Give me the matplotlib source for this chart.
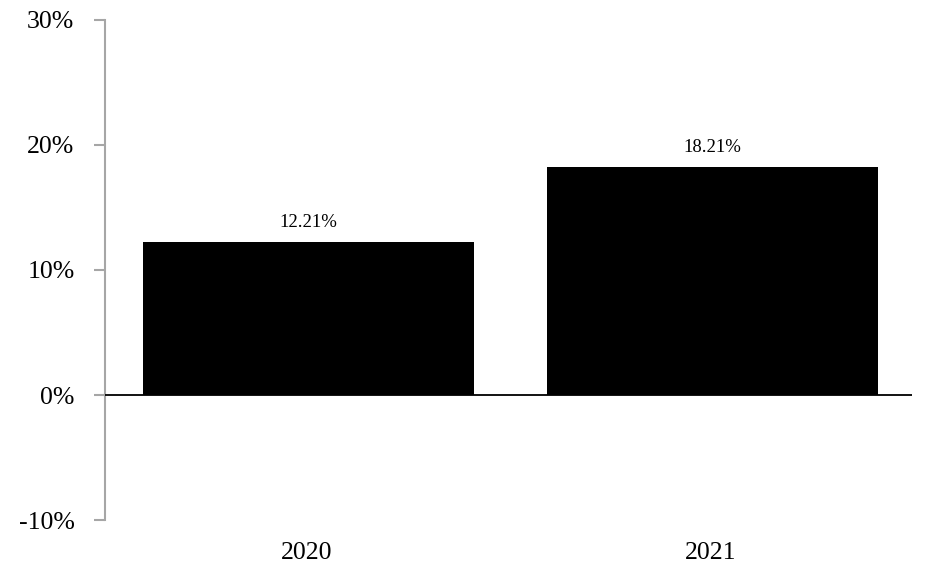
import matplotlib.pyplot as plt
from matplotlib.ticker import FuncFormatter

plt.rcParams["font.family"] = ["Liberation Serif", "DejaVu Serif"]

YEARS = ["2020", "2021"]
RETURNS = [12.21, 18.21]
Y_TICKS = [-10, 0, 10, 20, 30]

GRAY = "#a6a6a6"


def main():
    fig = plt.figure(figsize=(9.32, 5.86), dpi=100)
    ax = fig.add_axes([0.1127, 0.1126, 0.8658, 0.8533])

    x = [i + 0.5 for i in range(len(YEARS))]
    bars = ax.bar([v + 0.005 for v in x], RETURNS, width=0.82, color="black", zorder=2)
    for bar, val in zip(bars, RETURNS):
        ax.annotate(
            f"{val:.2f}%",
            (bar.get_x() + bar.get_width() / 2.0, bar.get_height()),
            xytext=(0, 8),
            textcoords="offset points",
            ha="center",
            va="bottom",
            fontsize=13.5,
        )

    # zero line across the plot
    ax.axhline(0, color="black", linewidth=1.3, zorder=3)

    ax.set_xlim(0, len(YEARS))
    ax.set_ylim(-10, 30)
    ax.set_yticks(Y_TICKS)
    ax.yaxis.set_major_formatter(FuncFormatter(lambda v, _: f"{v:.0f}%"))
    ax.set_xticks(x)
    ax.set_xticklabels(YEARS)

    for side in ("top", "right", "bottom"):
        ax.spines[side].set_visible(False)
    ax.spines["left"].set_color(GRAY)
    ax.spines["left"].set_linewidth(1.5)
    ax.tick_params(axis="y", colors=GRAY, labelcolor="black", length=8, width=1.5, pad=14, labelsize=18.5)
    ax.tick_params(axis="x", length=0, pad=16, labelsize=18.5)

    fig.savefig("out.png", dpi=100)
    plt.close(fig)


if __name__ == "__main__":
    main()
